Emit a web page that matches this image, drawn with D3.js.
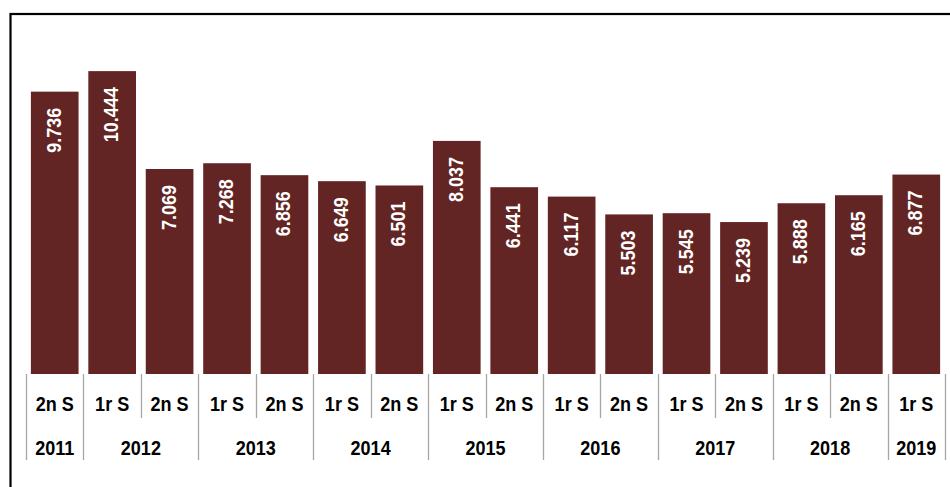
<!DOCTYPE html>
<html>
<head>
<meta charset="utf-8">
<script src="https://cdn.jsdelivr.net/npm/d3@7"></script>
<style>
  body { margin: 0; background: #fff; }
  text { font-family: "Liberation Sans", Arial, sans-serif; font-weight: bold; }
</style>
</head>
<body>
<script>
// data
var years = ["2011", "2012", "2012", "2013", "2013", "2014", "2014", "2015", "2015",
             "2016", "2016", "2017", "2017", "2018", "2018", "2019"];
var semesters = ["2n S", "1r S", "2n S", "1r S", "2n S", "1r S", "2n S", "1r S", "2n S",
                 "1r S", "2n S", "1r S", "2n S", "1r S", "2n S", "1r S"];
var values = [9736, 10444, 7069, 7268, 6856, 6649, 6501, 8037, 6441,
              6117, 5503, 5545, 5239, 5888, 6165, 6877];

var W = 950, H = 487;
var left = 26, right = 945, base = 374;

var svg = d3.select("body").append("svg")
    .attr("width", W)
    .attr("height", H);

// outer frame (runs off the right and bottom edges)
svg.append("rect")
    .attr("x", 10.5).attr("y", 14)
    .attr("width", W + 10).attr("height", H + 10)
    .attr("fill", "none")
    .attr("stroke", "#000")
    .attr("stroke-width", 2.2);

var idx = d3.range(values.length);
var x = d3.scaleBand().domain(idx).range([left, right]).paddingInner(0.17).paddingOuter(0.085);
var step = x.step();
var y = d3.scaleLinear().domain([0, 12000]).range([base, base - 12000 * 0.029]);

var fmt = d3.formatLocale({ decimal: ",", thousands: ".", grouping: [3], currency: ["", "€"] }).format(",d");

// bars
svg.selectAll("rect.bar").data(idx).enter().append("rect")
    .attr("class", "bar")
    .attr("x", function (i) { return x(i); })
    .attr("y", function (i) { return y(values[i]); })
    .attr("width", x.bandwidth())
    .attr("height", function (i) { return base - y(values[i]); })
    .attr("fill", "#632523");

// value labels, rotated inside bars
svg.selectAll("text.val").data(idx).enter().append("text")
    .attr("class", "val")
    .attr("transform", function (i) {
        return "translate(" + (x(i) + x.bandwidth() / 2 - 1) + "," + (y(values[i]) + 16) + ") rotate(-90) scale(1,1.08)";
    })
    .attr("text-anchor", "end")
    .attr("dy", "0.36em")
    .attr("fill", "#fff")
    .style("font-size", "18px")
    .text(function (i) { return fmt(values[i]); });

// category axis: semester row
var axis = svg.append("g");
var catX = function (i) { return left + i * step; };

axis.selectAll("text.sem").data(idx).enter().append("text")
    .attr("class", "sem")
    .attr("transform", function (i) { return "translate(" + (catX(i) + step / 2) + ",404) scale(0.88,1)"; })
    .attr("dy", "0.36em")
    .attr("text-anchor", "middle")
    .attr("fill", "#000")
    .style("font-size", "20.5px")
    .text(function (i) { return semesters[i]; });

// separators: short inside a year, long between years
var seps = d3.range(values.length + 1);
axis.selectAll("line.sep").data(seps).enter().append("line")
    .attr("class", "sep")
    .attr("x1", function (i) { return Math.round(catX(i)) + 0.5; })
    .attr("x2", function (i) { return Math.round(catX(i)) + 0.5; })
    .attr("y1", base)
    .attr("y2", function (i) {
        var yearBreak = i === 0 || i === values.length || years[i] !== years[i - 1];
        return yearBreak ? 460 : 418;
    })
    .attr("stroke", "#a6a6a6")
    .attr("stroke-width", 1.3);

// year row
var groups = [];
years.forEach(function (yr, i) {
    if (groups.length && groups[groups.length - 1].year === yr) groups[groups.length - 1].n++;
    else groups.push({ year: yr, start: i, n: 1 });
});
axis.selectAll("text.year").data(groups).enter().append("text")
    .attr("class", "year")
    .attr("transform", function (g) { return "translate(" + (catX(g.start) + g.n * step / 2) + ",448) scale(0.88,1)"; })
    .attr("dy", "0.36em")
    .attr("text-anchor", "middle")
    .attr("fill", "#000")
    .style("font-size", "20.5px")
    .text(function (g) { return g.year; });
</script>
</body>
</html>
